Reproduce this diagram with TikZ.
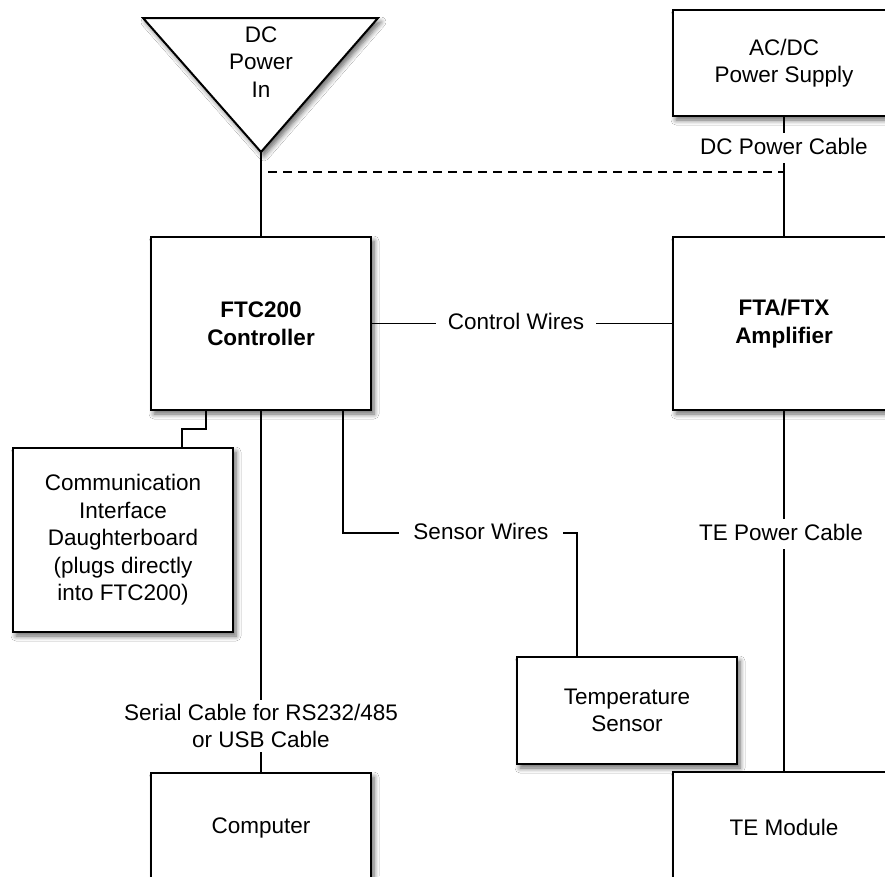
\documentclass[tikz,border=0pt]{standalone}
\usepackage{fontspec}
\setmainfont{Liberation Sans}
\usetikzlibrary{shadows.blur}
\begin{document}
\begin{tikzpicture}[x=1pt,y=-1pt,
  every node/.style={font=\fontsize{22.5}{27.5}\selectfont},
  shad/.style={blur shadow={shadow xshift=3pt, shadow yshift=-4pt, shadow blur steps=6, shadow blur radius=5pt, shadow opacity=60}},
  box/.style={draw, line width=2pt, fill=white, minimum width=220, align=center, inner sep=0pt, shad},
  lab/.style={fill=white, inner xsep=12pt, inner ysep=5pt, text height=16pt, text depth=4pt},
  labm/.style={fill=white, inner xsep=12pt, inner ysep=4pt, align=center},
  wire/.style={line width=1.4pt}]
\useasboundingbox (0,0) rectangle (885,876);
\clip (0,0) rectangle (885,876);
\fill[white] (0,0) rectangle (885,876);

% triangle
\filldraw[line width=2pt, fill=white, line join=miter, shad]
  (143,18) -- (378,18) -- (261,152) -- cycle;
\node[align=center] (dcin) at (261,62) {DC\\Power\\In};
\coordinate (apex) at (261,152);

% boxes
\node[box, minimum width=222, minimum height=106] (acdc) at (784,63) {AC/DC\\Power Supply};
\node[box, minimum height=173] (ftc) at (261,323.5) {\textbf{FTC200}\\\textbf{Controller}};
\node[box, minimum width=222, minimum height=173] (fta) at (784,323.5) {\textbf{FTA/FTX}\\\textbf{Amplifier}};
\node[box, minimum height=184] (dtr) at (123,540) {Communication\\Interface\\Daughterboard\\(plugs directly\\into FTC200)};
\node[box, minimum height=107] (temp) at (627,710.5) {Temperature\\Sensor};
\node[box, minimum height=110] (comp) at (261,828) {Computer};
\node[box, minimum width=222, minimum height=110] (te) at (784,827) {TE Module};

% connectors
\draw[wire] (apex) -- (apex |- ftc.north);
\coordinate (dl) at (268,172);
\draw[wire, dash pattern=on 9pt off 6pt] (dl) -- (dl -| acdc.south);
\draw[wire] (acdc.south) -- (fta.north);
\node[lab] (dcpc) at (784,148) {DC Power Cable};

\draw[wire] (ftc.east) -- (fta.west);
\node[lab] (cw) at (516,323.5) {Control Wires};

\coordinate (db1) at (206,429);
\coordinate (db2) at (182,429);
\draw[wire] (db1 |- ftc.south) -- (db1) -- (db2) -- (db2 |- dtr.north);

\draw[wire] (ftc.south) -- (ftc.south |- comp.north);
\node[labm] (ser) at (261,726) {Serial Cable for RS232/485\\or USB Cable};

\coordinate (sw) at (577,533);
\draw[wire] ([xshift=82pt]ftc.south) |- (sw) -- (sw |- temp.north);
\node[lab, inner xsep=14pt] (sens) at (481,533) {Sensor Wires};

\draw[wire] (fta.south) -- (te.north);
\node[lab] (tepc) at (781,534) {TE Power Cable};
\end{tikzpicture}
\end{document}
